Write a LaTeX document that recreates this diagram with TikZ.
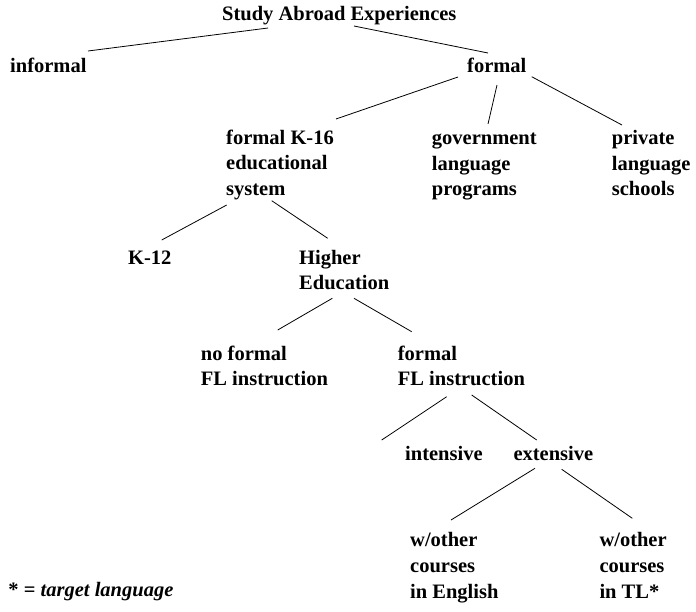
\documentclass[tikz,border=0pt]{standalone}
\usepackage{fontspec}
\setmainfont{Liberation Serif}
\usetikzlibrary{positioning}

\begin{document}
\begin{tikzpicture}[x=1pt,y=-1pt,
			lbl/.style={anchor=base west, inner sep=0pt, align=left, font=\bfseries\fontsize{20.5}{25.8}\selectfont},
			edge/.style={black,line width=0.8pt}]
		\useasboundingbox (0,0) rectangle (696,611);
		% multi-line nodes sit on the baseline of their last line
		\path 	(222,20.7) 	node 	(top) [lbl] {Study Abroad Experiences}
		        (10,72) 	node 	(informal) [lbl] {informal}
		        (467,72.7) 	node 	(formal) [lbl] {formal}
		        (226,195.6) node 	(k16) [lbl] {formal K-16\\educational\\system}
		        (431.7,195.9) node 	(gov) [lbl] {government\\language\\programs}
		        (611.7,195.9) node 	(private) [lbl] {private\\language\\schools}
		        (128,264) 	node 	(k12) [lbl] {K-12}
		        (299,289.8) node 	(higher) [lbl] {Higher\\Education}
		        (200.7,385.8) node 	(noformal) [lbl] {no formal\\FL instruction}
		        (397.7,385.8) node 	(formalfl) [lbl] {formal\\FL instruction}
		        (405,460.7) node 	(intensive) [lbl] {intensive}
		        (513.3,460.7) node 	(extensive) [lbl] {extensive}
		        (410,598.3) node 	(english) [lbl] {w/other\\courses\\in English}
		        (599.3,598.3) node 	(tl) [lbl] {w/other\\courses\\in TL*}
		        (8.3,596) 	node 	(note) [lbl] {* = \textit{target language}};
		\draw [edge] ([shift={(46,7.3)}]top.base west) -- ([shift={(78,-21)}]informal.base west);
		\draw [edge] ([shift={(132,5.3)}]top.base west) -- ([shift={(21,-19.7)}]formal.base west);
		\draw [edge] ([shift={(-9,4.3)}]formal.base west) -- ([shift={(110,-76.6)}]k16.base west);
		\draw [edge] ([shift={(30,12.3)}]formal.base west) -- ([shift={(56.3,-71.9)}]gov.base west);
		\draw [edge] ([shift={(64.7,4)}]formal.base west) -- ([shift={(10.3,-70.9)}]private.base west);
		\draw [edge] ([shift={(0.7,9.4)}]k16.base west) -- ([shift={(33.7,-24)}]k12.base west);
		\draw [edge] ([shift={(45.7,5.1)}]k16.base west) -- ([shift={(28.7,-51.5)}]higher.base west);
		\draw [edge] ([shift={(33.3,8.5)}]higher.base west) -- ([shift={(77,-55.8)}]noformal.base west);
		\draw [edge] ([shift={(55,8.5)}]higher.base west) -- ([shift={(14,-54.1)}]formalfl.base west);
		\draw [edge] ([shift={(49,10.9)}]formalfl.base west) -- ([shift={(-23.3,-20.7)}]intensive.base west);
		\draw [edge] ([shift={(74,9.2)}]formalfl.base west) -- ([shift={(23.4,-20.7)}]extensive.base west);
		\draw [edge] ([shift={(21.7,7.6)}]extensive.base west) -- ([shift={(41,-78.3)}]english.base west);
		\draw [edge] ([shift={(48.4,8.6)}]extensive.base west) -- ([shift={(33,-80)}]tl.base west);
	\end{tikzpicture}
\end{document}
